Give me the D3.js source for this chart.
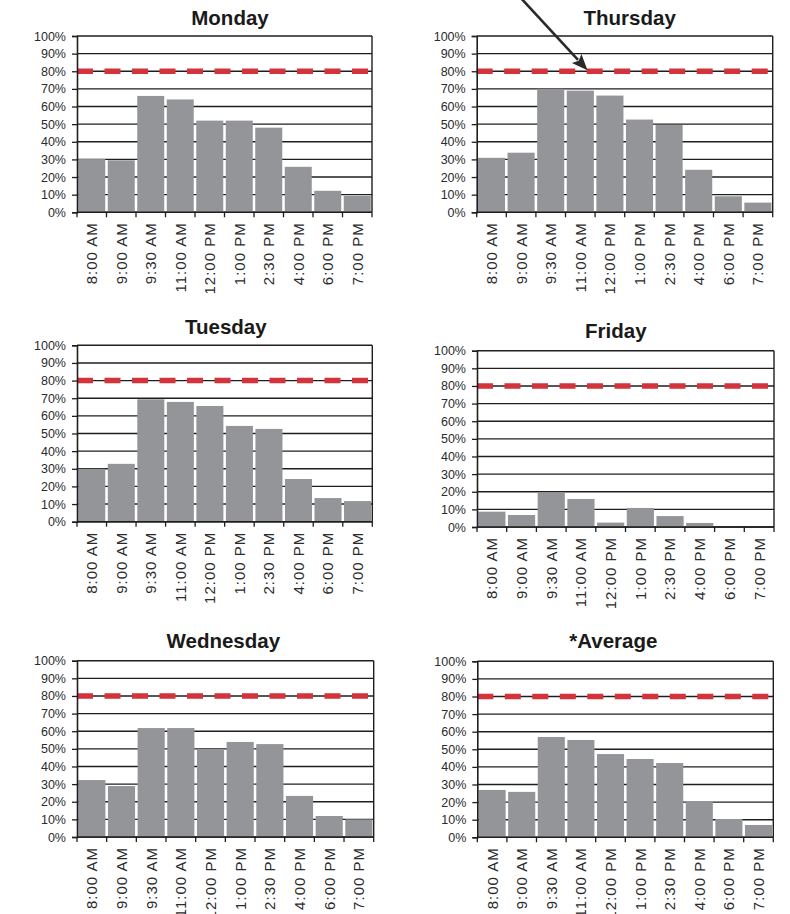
<!DOCTYPE html>
<html>
<head>
<meta charset="utf-8">
<script src="https://cdn.jsdelivr.net/npm/d3@7"></script>
<style>
  html, body { margin: 0; padding: 0; background: #fff; }
  svg { display: block; }
  .tick-label { font-family: "Liberation Sans", Arial, sans-serif; font-size: 12.5px; fill: #2b2b2b; }
  .cat-label { font-family: "Liberation Sans", Arial, sans-serif; font-size: 15px; fill: #2b2b2b; letter-spacing: 1px; }
  .title { font-family: "Liberation Sans", Arial, sans-serif; font-size: 20.5px; font-weight: bold; fill: #1a1a1a; }
</style>
</head>
<body>
<svg id="chart" width="790" height="914"></svg>
<script>
// Time slots shown on every panel
const categories = ["8:00 AM", "9:00 AM", "9:30 AM", "11:00 AM", "12:00 PM",
                    "1:00 PM", "2:30 PM", "4:00 PM", "6:00 PM", "7:00 PM"];

// Occupancy (%) per time slot
const monday    = [30.2, 29.5, 66.0, 64.0, 52.0, 52.0, 48.0, 25.8, 12.2, 9.3];
const tuesday   = [30.0, 32.8, 69.4, 67.9, 65.6, 54.3, 52.6, 24.2, 13.4, 11.7];
const wednesday = [32.3, 28.9, 61.8, 61.8, 49.9, 53.9, 52.7, 23.3, 11.9, 10.0];
const thursday  = [30.9, 33.8, 70.0, 69.0, 66.2, 52.6, 49.5, 24.1, 9.1, 5.5];
const friday    = [8.7, 6.8, 19.5, 15.9, 2.5, 10.8, 6.2, 2.3, 0, 0];
const average   = [26.9, 25.8, 57.0, 55.3, 47.3, 44.5, 42.2, 20.6, 10.4, 7.0];

const titles = ["Monday", "Thursday", "Tuesday", "Friday", "Wednesday", "*Average"];
const seriesList = [monday, thursday, tuesday, friday, wednesday, average];

// Y axis ticks (%) and target level (%)
const yTicks = [0, 10, 20, 30, 40, 50, 60, 70, 80, 90, 100];
const target = 80;

// Plot frames: left, right, top (100%), bottom (0%), title centre x and baseline y
const frames = [
  { l: 77,    r: 372,   t: 36,    b: 212.3, tx: 230,   ty: 25 },
  { l: 476.7, r: 772.7, t: 36,    b: 212.3, tx: 629.7, ty: 25 },
  { l: 77,    r: 372.3, t: 345.3, b: 521.7, tx: 225.8, ty: 334 },
  { l: 477,   r: 774,   t: 350.7, b: 527,   tx: 615.8, ty: 338.3 },
  { l: 77,    r: 373.7, t: 660.7, b: 837,   tx: 223.3, ty: 648.3 },
  { l: 477.3, r: 773.3, t: 661.3, b: 837.3, tx: 613.3, ty: 648.3 }
];

const svg = d3.select("#chart");
const BAR = "#939598", GRID = "#1e1e1e", RED = "#d3333b";

const yScales = [];

frames.forEach((f, i) => {
  const values = seriesList[i];
  const g = svg.append("g");

  const x = d3.scaleBand().domain(categories).range([f.l, f.r])
    .paddingInner(0.085).paddingOuter(0.0425);
  const y = d3.scaleLinear().domain([0, 100]).range([f.b, f.t]);
  yScales.push(y);

  // horizontal gridlines
  g.append("g").selectAll("line").data(yTicks).join("line")
    .attr("x1", f.l).attr("x2", f.r)
    .attr("y1", d => y(d)).attr("y2", d => y(d))
    .attr("stroke", GRID).attr("stroke-width", 1.4);

  // bars
  g.append("g").selectAll("rect").data(values).join("rect")
    .attr("x", (d, j) => x(categories[j]))
    .attr("width", x.bandwidth())
    .attr("y", d => y(d))
    .attr("height", d => y(0) - y(d))
    .attr("fill", BAR);

  // target line
  g.append("line")
    .attr("x1", f.l).attr("x2", f.r)
    .attr("y1", y(target)).attr("y2", y(target))
    .attr("stroke", RED).attr("stroke-width", 5.5)
    .attr("stroke-dasharray", "16,11.5");

  // frame: right border
  g.append("line")
    .attr("x1", f.r).attr("x2", f.r).attr("y1", f.t).attr("y2", f.b)
    .attr("stroke", GRID).attr("stroke-width", 1.4);

  // y axis
  const yAxis = d3.axisLeft(y).tickValues(yTicks).tickSize(5).tickPadding(6)
    .tickFormat(d => d + "%");
  const ya = g.append("g").attr("transform", `translate(${f.l},0)`).call(yAxis);
  ya.select(".domain").attr("stroke", GRID).attr("stroke-width", 1.6);
  ya.selectAll(".tick line").attr("stroke", GRID).attr("stroke-width", 1.3);
  ya.selectAll(".tick text").attr("class", "tick-label").attr("font-size", null).attr("font-family", null).attr("fill", null);

  // x axis: ticks at category boundaries
  const bounds = d3.range(categories.length + 1).map(k => f.l + k * (f.r - f.l) / categories.length);
  g.append("line")
    .attr("x1", f.l).attr("x2", f.r).attr("y1", f.b).attr("y2", f.b)
    .attr("stroke", GRID).attr("stroke-width", 1.6);
  g.append("g").selectAll("line").data(bounds).join("line")
    .attr("x1", d => d).attr("x2", d => d)
    .attr("y1", f.b).attr("y2", f.b + 5)
    .attr("stroke", GRID).attr("stroke-width", 1.3);

  // rotated category labels
  g.append("g").selectAll("text").data(categories).join("text")
    .attr("class", "cat-label")
    .attr("text-anchor", "end")
    .attr("dy", "0.36em")
    .attr("transform", d => `translate(${x(d) + x.bandwidth() / 2},${f.b + 10}) rotate(-90)`)
    .text(d => d);

  // panel title
  g.append("text").attr("class", "title")
    .attr("x", f.tx).attr("y", f.ty)
    .attr("text-anchor", "middle")
    .text(titles[i]);
});

// Callout arrow pointing at the Thursday target line
const tip = [587.5, yScales[1](target) - 1];
const start = [519, -4];
const dx = tip[0] - start[0], dy = tip[1] - start[1];
const len = Math.hypot(dx, dy), ux = dx / len, uy = dy / len;
const headLen = 16, headHalf = 6.5;
const base = [tip[0] - ux * headLen, tip[1] - uy * headLen];
svg.append("line")
  .attr("x1", start[0]).attr("y1", start[1])
  .attr("x2", base[0] + ux * 2).attr("y2", base[1] + uy * 2)
  .attr("stroke", "#2a2a2a").attr("stroke-width", 2.6);
svg.append("path")
  .attr("d", d3.line()([
    tip,
    [base[0] - uy * headHalf, base[1] + ux * headHalf],
    [base[0] + ux * 3, base[1] + uy * 3],
    [base[0] + uy * headHalf, base[1] - ux * headHalf]
  ]) + "Z")
  .attr("fill", "#2a2a2a");
</script>
</body>
</html>
